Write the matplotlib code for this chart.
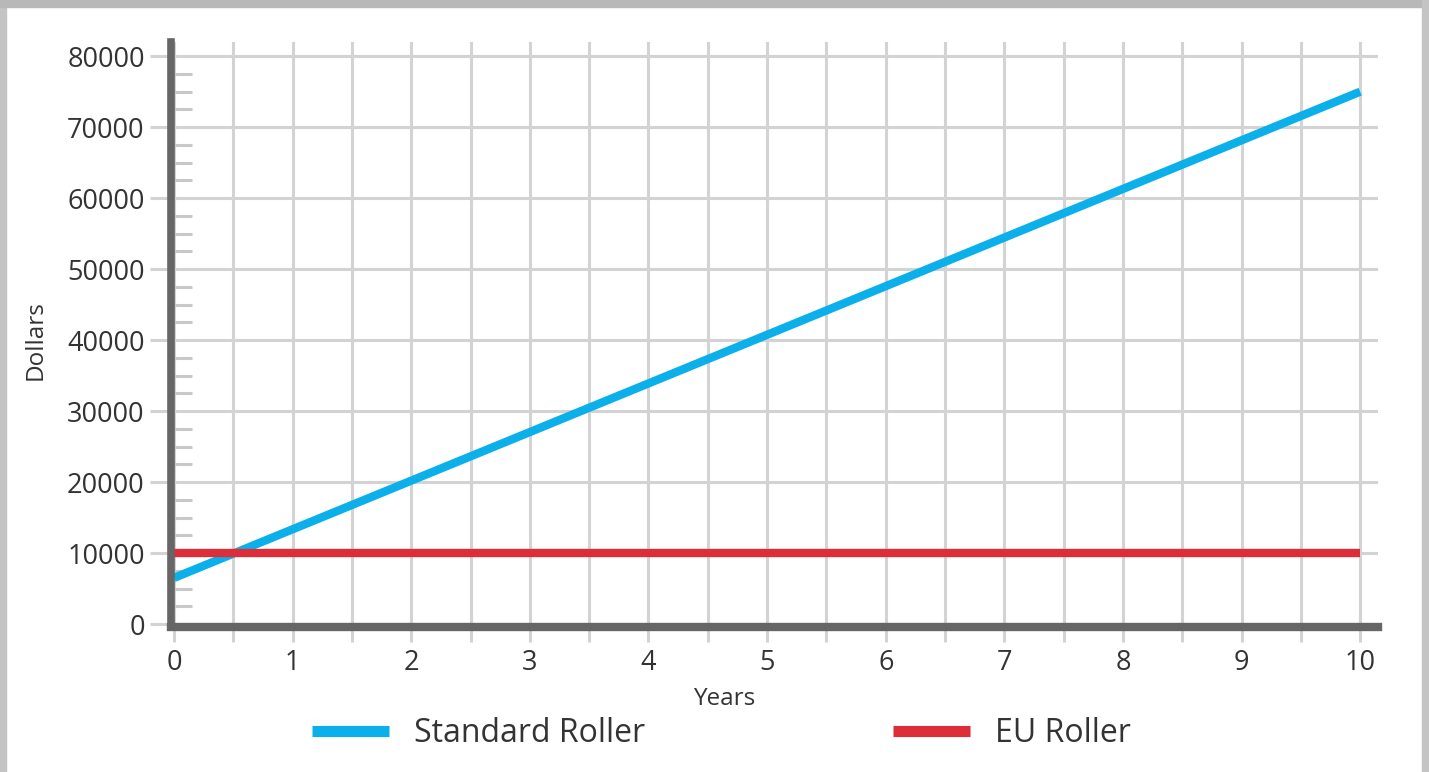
import matplotlib
matplotlib.use("Agg")
import matplotlib.pyplot as plt
from matplotlib.patches import Rectangle
from matplotlib.lines import Line2D
import numpy as np

plt.rcParams['font.family'] = ['Open Sans', 'DejaVu Sans']

# data
years = [0, 1, 2, 3, 4, 5, 6, 7, 8, 9, 10]
standard_roller = [6500, 13350, 20200, 27050, 33900, 40750, 47600, 54450, 61300, 68150, 75000]
eu_roller = [10000, 10000, 10000, 10000, 10000, 10000, 10000, 10000, 10000, 10000, 10000]
x_ticks = [0, 1, 2, 3, 4, 5, 6, 7, 8, 9, 10]
y_ticks = [0, 10000, 20000, 30000, 40000, 50000, 60000, 70000, 80000]

BLUE = '#0bafea'
RED = '#dc2d38'
AXIS_GRAY = '#666666'
GRID_GRAY = '#d3d3d3'
TEXT = '#333333'

fig = plt.figure(figsize=(14.29, 7.72), dpi=100)
fig.patch.set_facecolor('white')

# grey frame around the picture
fig.patches.append(Rectangle((0, 0), 0.004, 1, transform=fig.transFigure,
                             color='#c4c4c4', zorder=0))
fig.patches.append(Rectangle((0, 0.991), 1, 0.009, transform=fig.transFigure,
                             color='#b8b8b8', zorder=0))
fig.patches.append(Rectangle((0.9951, 0), 0.0049, 1, transform=fig.transFigure,
                             color='#c4c4c4', zorder=0))

ax = fig.add_axes([0.1197, 0.1878, 0.8446, 0.7578])

ax.plot(years, standard_roller, color=BLUE, lw=6, solid_capstyle='butt', zorder=4)
ax.plot(years, eu_roller, color=RED, lw=6, solid_capstyle='butt', zorder=4)

ax.set_xlim(-0.025, 10.15)
ax.set_ylim(-420, 82000)

# grid every half year / every 10000
half_years = np.arange(0, 10.5, 0.5)
ax.set_xticks(half_years)
ax.set_xticklabels([str(int(t)) if t in x_ticks else '' for t in half_years])
ax.set_yticks(y_ticks)
ax.set_yticklabels([str(v) for v in y_ticks])
ax.set_yticks(np.arange(0, 82000, 2500), minor=True)
ax.grid(True, which='major', color=GRID_GRAY, lw=2.2, zorder=1)

ax.tick_params(axis='x', which='major', direction='out', length=11, width=2.2,
               color=GRID_GRAY, labelsize=19.5, labelcolor=TEXT, pad=5)
ax.tick_params(axis='y', which='major', direction='out', length=15, width=2.2,
               color=GRID_GRAY, labelsize=19.5, labelcolor=TEXT, pad=4)
ax.tick_params(axis='y', which='minor', direction='in', length=15, width=2.2,
               color='#c8c8c8')

for side in ['top', 'right']:
    ax.spines[side].set_visible(False)
ax.spines['left'].set_color(AXIS_GRAY)
ax.spines['left'].set_linewidth(5.5)
ax.spines['bottom'].set_color(AXIS_GRAY)
ax.spines['bottom'].set_linewidth(6)
ax.spines['left'].set_zorder(5)
ax.spines['bottom'].set_zorder(5)

ax.set_xlabel('Years', fontsize=17.5, color=TEXT)
ax.set_ylabel('Dollars', fontsize=17.5, color=TEXT)
ax.xaxis.set_label_coords(0.458, -0.102)
ax.yaxis.set_label_coords(-0.1025, 0.49)

handles = [Line2D([0], [0], color=BLUE, lw=8, solid_capstyle='butt'),
           Line2D([0], [0], color=RED, lw=8, solid_capstyle='butt')]
fig.legend(handles, ['Standard Roller', 'EU Roller'], loc='center',
           bbox_to_anchor=(0.505, 0.05), ncol=2, frameon=False, fontsize=23,
           handlelength=2.4, handletextpad=0.8, columnspacing=7.75,
           labelcolor=TEXT)

fig.savefig('out.png', dpi=100)
